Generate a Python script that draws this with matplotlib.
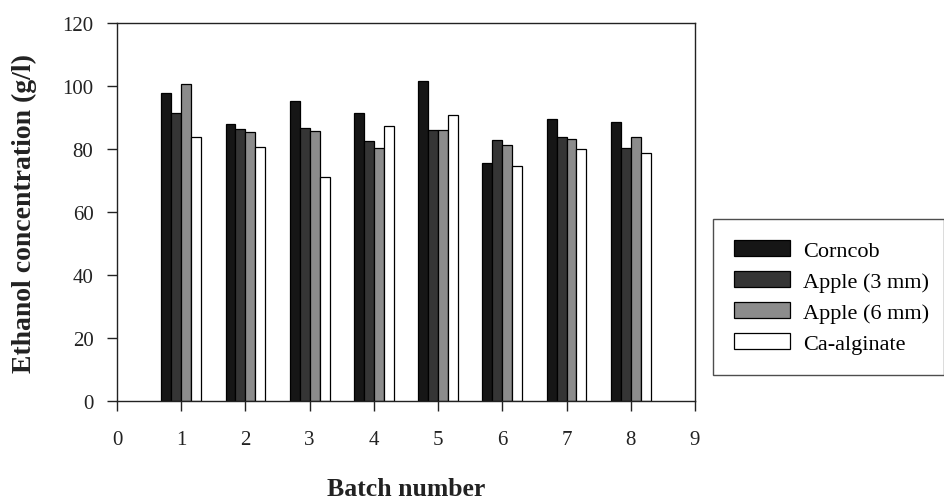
import matplotlib.pyplot as plt
import numpy as np

# Données
batches = [1, 2, 3, 4, 5, 6, 7, 8]
corncob = [97.7, 88.1, 95.2, 91.4, 101.5, 75.7, 89.5, 88.6]
apple_3mm = [91.3, 86.3, 86.8, 82.6, 86.2, 83.0, 83.7, 80.2]
apple_6mm = [100.8, 85.4, 85.8, 80.3, 86.2, 81.2, 83.2, 83.7]
ca_alginate = [83.9, 80.5, 71.2, 87.2, 90.9, 74.5, 79.9, 78.7]

series = [corncob, apple_3mm, apple_6mm, ca_alginate]
labels = ['Corncob', 'Apple (3 mm)', 'Apple (6 mm)', 'Ca-alginate']
colors = ['#161616', '#353535', '#8c8c8c', 'white']

plt.rcParams['font.family'] = ['Liberation Serif', 'DejaVu Serif']

fig = plt.figure(figsize=(9.45, 5.02), dpi=100)
ax = fig.add_axes([0.1238, 0.1992, 0.6116, 0.7528])

x = np.array(batches)
w = 0.155
for i, (vals, lab, col) in enumerate(zip(series, labels, colors)):
    ax.bar(x + (i - 1.5) * w, vals, width=w, color=col, edgecolor='black',
           linewidth=0.9, label=lab)

ax.set_xlim(0, 9)
ax.set_ylim(0, 120)
ax.set_xticks(range(0, 10))
ax.set_yticks(range(0, 121, 20))
ax.tick_params(direction='out', length=7, width=1, labelsize=15, colors='#222222')
ax.tick_params(axis='x', pad=14)
ax.tick_params(axis='y', pad=10)
for s in ax.spines.values():
    s.set_linewidth(1)
    s.set_color('#222222')

ax.set_xlabel('Batch number', fontsize=18.5, fontweight='bold', color='#222222', labelpad=20)
ax.set_ylabel('Ethanol concentration (g/l)', fontsize=20, fontweight='bold', color='#222222', labelpad=18)

handles, labs = ax.get_legend_handles_labels()
leg = fig.legend(handles, labs, loc='upper left', bbox_to_anchor=(0.7545, 0.0, 0.2445, 0.5618),
                 mode='expand', fontsize=16, frameon=True, fancybox=False,
                 handlelength=2.52, handleheight=0.72, handletextpad=0.59,
                 labelspacing=0.46, borderpad=0.95, borderaxespad=0)
leg.get_frame().set_edgecolor('#222222')
leg.get_frame().set_linewidth(1)

fig.savefig('out.png', dpi=100)
